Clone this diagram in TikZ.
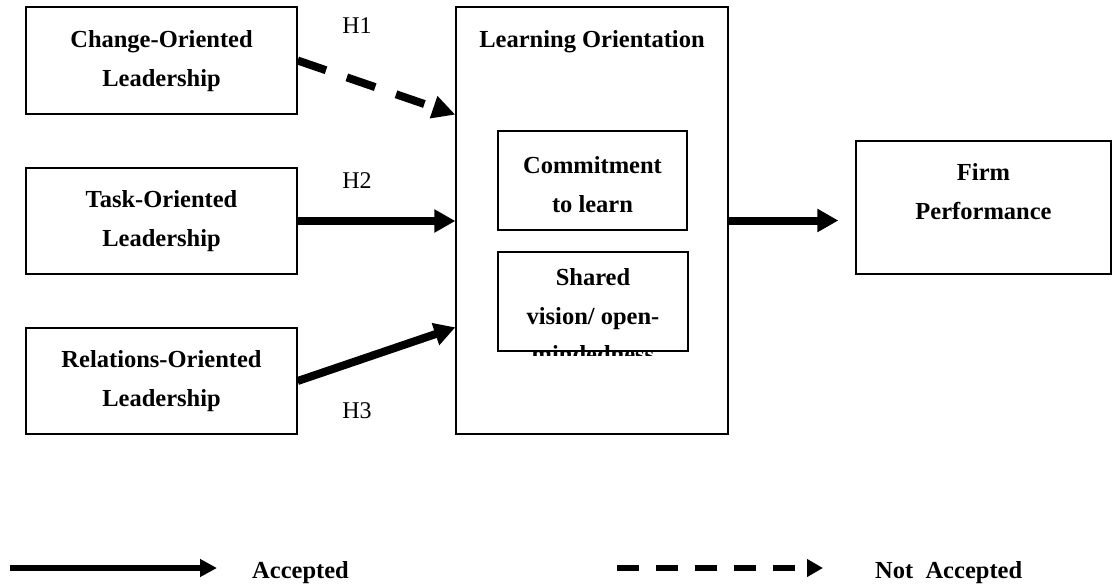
\documentclass[tikz,border=0pt]{standalone}
\usepackage{fontspec}
\setmainfont{Liberation Serif}
\usetikzlibrary{arrows.meta,calc}

\tikzset{
  box/.style={draw, line width=1.3pt, rectangle, inner sep=0pt},
  boxtext/.style={font=\fontsize{24.5}{38.5}\selectfont\bfseries, align=center, inner sep=0pt, anchor=north},
  hyp/.style={font=\fontsize{24}{28}\selectfont, inner sep=0pt, anchor=base},
  legendtext/.style={font=\fontsize{24.5}{28}\selectfont\bfseries, inner sep=0pt, anchor=base west},
  solidlink/.style={line width=8pt, -{Triangle[length=21pt,width=22pt]}},
  dashlink/.style={line width=8pt, dash pattern=on 30pt off 22pt, -{Triangle[length=23pt,width=22pt]}},
  keysolid/.style={line width=6pt, -{Triangle[length=17pt,width=17pt]}},
  keydash/.style={line width=5.5pt, dash pattern=on 22pt off 17pt, -{Triangle[length=16pt,width=17pt]}}
}

\begin{document}
\begin{tikzpicture}[x=1pt,y=-1pt]
  \useasboundingbox (0,0) rectangle (1112,587);

  % leadership styles
  \node[box, minimum width=271pt, minimum height=107pt] (chg)  at (161.5,60.5) {};
  \node[box, minimum width=271pt, minimum height=106pt] (task) at (161.5,221) {};
  \node[box, minimum width=271pt, minimum height=106pt] (rel)  at (161.5,381) {};
  \node[boxtext] (chgtxt)  at (161.5,30.3)  {Change-Oriented\\Leadership};
  \node[boxtext] (tasktxt) at (161.5,190.3) {Task-Oriented\\Leadership};
  \node[boxtext] (reltxt)  at (161.5,350.3) {Relations-Oriented\\Leadership};

  % learning orientation and its two dimensions
  \node[box, minimum width=272pt, minimum height=427pt] (learn) at (592,220.5) {};
  \node[boxtext] (learntxt) at (592,30.3) {Learning Orientation};
  \node[box, minimum width=189pt, minimum height=99pt] (commit) at (592.5,180.5) {};
  \node[boxtext] (committxt) at (592.5,156.3) {Commitment\\to learn};
  \begin{scope}
    \clip (497,250) rectangle (689,355);
    \node[boxtext] (sharedtxt) at (593,268.3) {Shared\\vision/ open-\\mindedness};
  \end{scope}
  \node[box, minimum width=190pt, minimum height=99pt] (shared) at (593,301.5) {};

  % outcome
  \node[box, minimum width=255pt, minimum height=133pt] (firm) at (983.5,207.5) {};
  \node[boxtext] (firmtxt) at (983.5,163.3) {Firm\\Performance};

  % hypotheses
  \draw[dashlink]  (chg.east)  -- (learn.west |- chg.south);
  \draw[solidlink] (task.east) -- (learn.west |- task.east);
  \draw[solidlink] (rel.east)  -- (learn.west |- rel.north);
  \draw[solidlink] (learn.east) -- ($(learn.east -| firm.west)+(-17,0)$);

  \node[hyp] (h1) at (357,33)  {H1};
  \node[hyp] (h2) at (357,188) {H2};
  \node[hyp] (h3) at (357,418) {H3};

  % key
  \coordinate (ka) at (10,568);
  \coordinate (kb) at (217,568);
  \coordinate (kc) at (617,568);
  \coordinate (kd) at (823,568);
  \draw[keysolid] (ka) -- (kb);
  \draw[keydash]  (kc) -- (kd);
  \node[legendtext] (acc)  at (252,578) {Accepted};
  \node[legendtext] (nacc) at (875,578) {Not~~Accepted};
\end{tikzpicture}
\end{document}
